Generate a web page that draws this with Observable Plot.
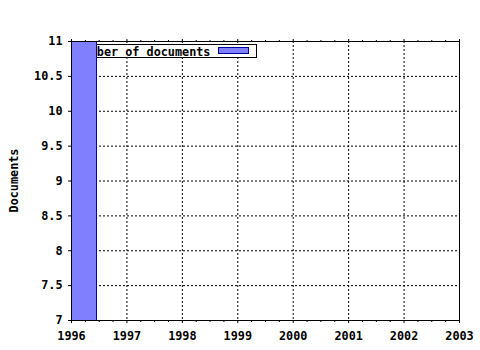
<!DOCTYPE html>
<html><head><meta charset="utf-8">
<script src="https://cdn.jsdelivr.net/npm/d3@7"></script>
<script src="https://cdn.jsdelivr.net/npm/@observablehq/plot@0.6"></script>
<style>body{margin:0;background:#fff;color:#000}</style>
</head><body><div id="chart"></div>
<script>
// ---- data ----
const years = [1996];
const counts = [12];
const seriesLabel = "Number of documents";
const yLabel = "Documents";
const xTicks = [1996, 1997, 1998, 1999, 2000, 2001, 2002, 2003];
const xMinorTicks = [1996.25, 1996.5, 1996.75, 1997.25, 1997.5, 1997.75, 1998.25, 1998.5, 1998.75,
  1999.25, 1999.5, 1999.75, 2000.25, 2000.5, 2000.75, 2001.25, 2001.5, 2001.75, 2002.25, 2002.5, 2002.75];
const yTicks = [7, 7.5, 8, 8.5, 9, 9.5, 10, 10.5, 11];
const boxWidth = 0.46;

const data = years.map((y, i) => ({year: y, count: counts[i]}));
const FILL = "#8080ff", EDGE = "#0000a0";
const FONT = "'DejaVu Sans Mono', monospace";
const FS = 11.8;

function decorations(index, scales, values, dim) {
  const ml = dim.marginLeft, mt = dim.marginTop;
  const g = d3.create("svg:g")
    .attr("font-family", FONT).attr("font-weight", "bold").attr("font-size", FS);
  g.append("rect").attr("x", ml + 3.5).attr("y", mt + 3.5).attr("width", 182).attr("height", 13)
    .attr("fill", "white").attr("stroke", "black");
  g.append("text").attr("x", ml + 4.5).attr("y", mt + 14.5).attr("text-anchor", "start")
    .attr("fill", "black").text(seriesLabel);
  g.append("rect").attr("x", ml + 147.5).attr("y", mt + 6.5).attr("width", 30).attr("height", 6)
    .attr("fill", FILL).attr("stroke", EDGE);
  return g.node();
}
function axisTitle(index, scales, values, dim) {
  const cy = dim.marginTop + (dim.height - dim.marginTop - dim.marginBottom) / 2;
  const g = d3.create("svg:g");
  g.append("text").attr("transform", `translate(18,${cy}) rotate(-90)`)
    .attr("text-anchor", "middle").attr("font-family", FONT).attr("font-weight", "bold")
    .attr("font-size", FS).attr("fill", "black").text(yLabel);
  return g.node();
}

const chart = Plot.plot({
  width: 480, height: 350,
  marginLeft: 71, marginRight: 21, marginTop: 41, marginBottom: 30,
  style: {fontFamily: FONT, fontSize: FS + "px", fontWeight: "bold", background: "white", color: "black"},
  x: {domain: [1996, 2003]},
  y: {domain: [7, 11]},
  marks: [
    Plot.ruleX(xTicks.slice(1, -1), {stroke: "black", strokeDasharray: "2,2"}),
    Plot.ruleY(yTicks.slice(1, -1), {stroke: "black", strokeDasharray: "2,2"}),
    decorations,
    Plot.rectY(data, {x1: "year", x2: d => d.year + boxWidth, y: "count", fill: FILL, stroke: EDGE, clip: true}),
    Plot.frame({stroke: "black"}),
    Plot.axisX(xTicks, {anchor: "bottom", tickSize: 3, tickPadding: 8, tickFormat: d => String(d), label: null, fill: "black", stroke: "black", fontSize: FS}),
    Plot.axisX(xMinorTicks, {anchor: "bottom", tickSize: 2, text: null, label: null, stroke: "black"}),
    Plot.axisX(xTicks, {anchor: "top", tickSize: 3, text: null, label: null, stroke: "black"}),
    Plot.axisX(xMinorTicks, {anchor: "top", tickSize: 2, text: null, label: null, stroke: "black"}),
    Plot.axisY(yTicks, {anchor: "left", tickSize: 3, tickPadding: 6, tickFormat: d => String(d), label: null, fill: "black", stroke: "black", fontSize: FS}),
    axisTitle
  ]
});
document.getElementById("chart").appendChild(chart);
</script>
</body></html>
